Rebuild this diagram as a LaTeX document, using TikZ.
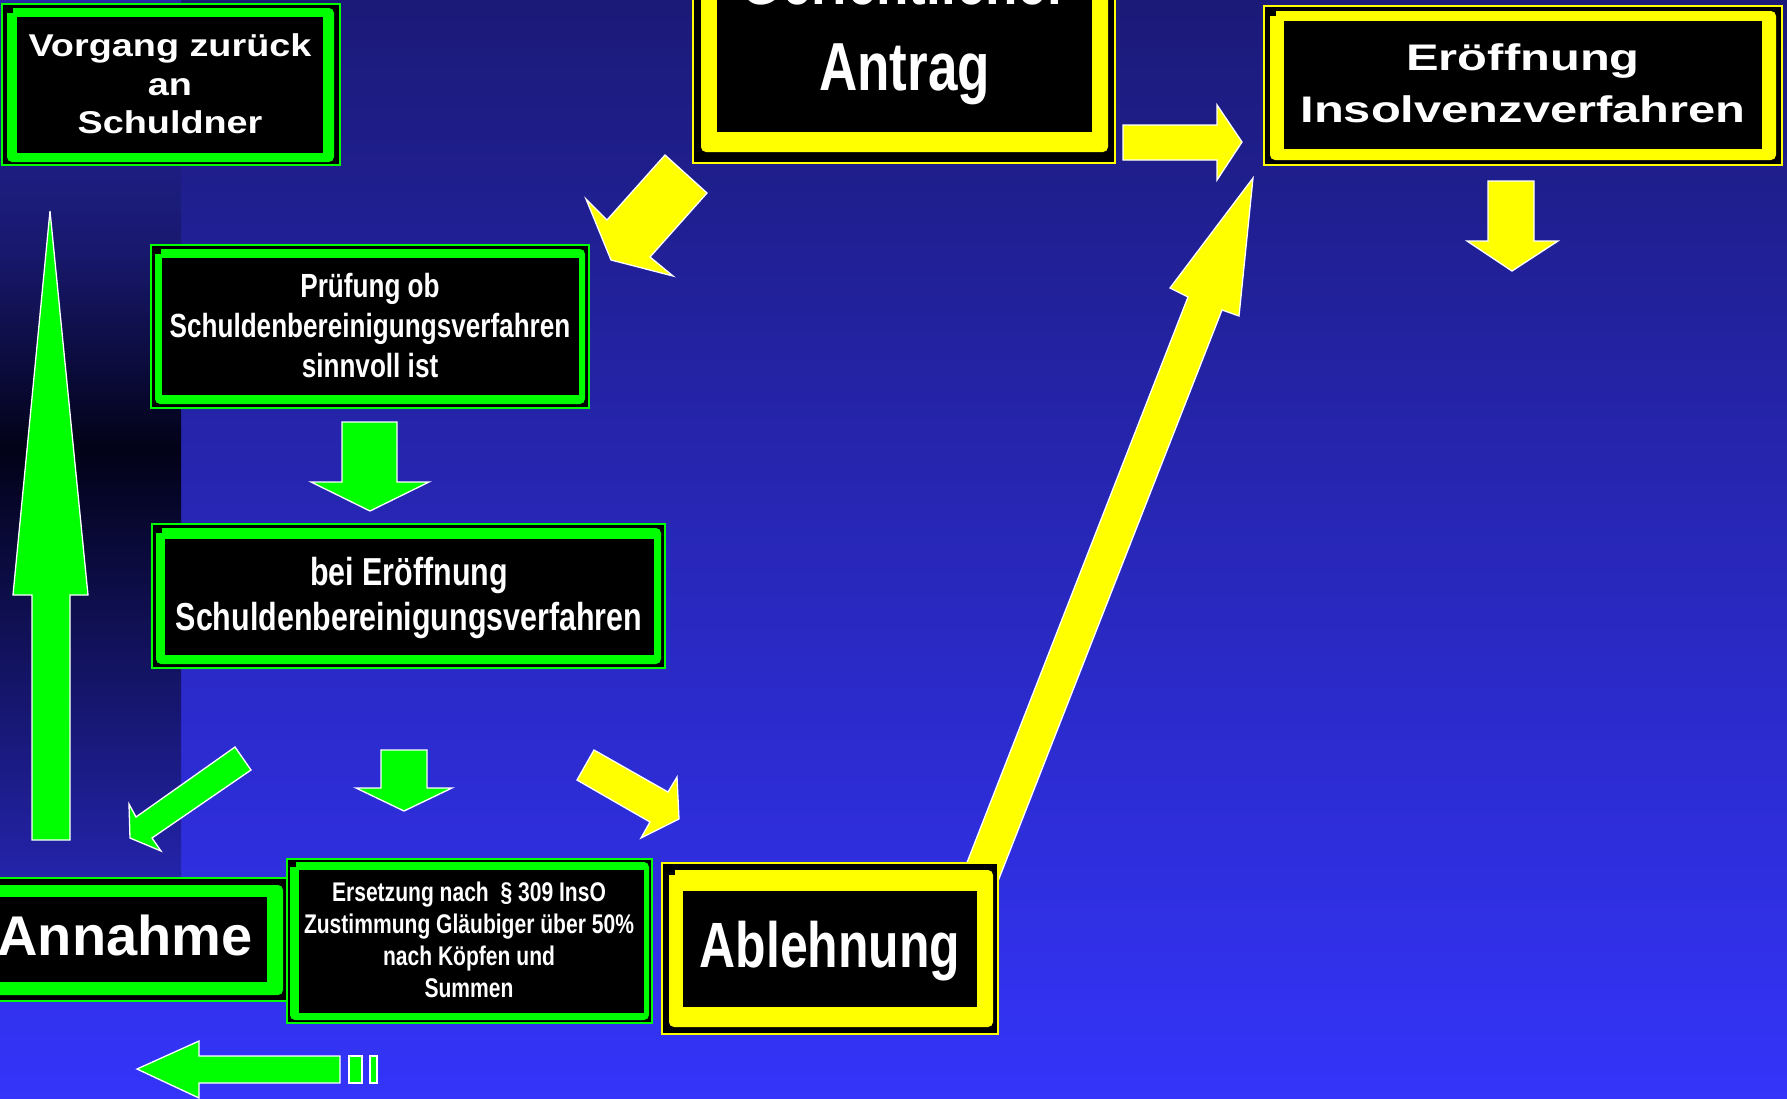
\documentclass[tikz,border=0pt]{standalone}
\usepackage{fontspec}
\setmainfont{Liberation Sans}
\newfontfamily\narrowf{Liberation Sans}[FakeStretch=0.78]
\newfontfamily\wideA{Liberation Sans}[FakeStretch=1.2]
\newfontfamily\wideB{Liberation Sans}[FakeStretch=1.32]
\definecolor{grn}{RGB}{0,255,0}
\definecolor{yel}{RGB}{255,255,0}
\definecolor{bgtop}{RGB}{27,26,120}
\definecolor{bgbot}{RGB}{52,52,250}
\definecolor{stripA}{RGB}{40,40,168}
\definecolor{stripB}{RGB}{24,24,110}
\definecolor{stripC}{RGB}{2,2,24}
\definecolor{stripD}{RGB}{36,36,172}
\tikzset{
  arr/.style={draw=white, line width=1.3pt, line join=miter},
  garr/.style={arr, fill=grn},
  yarr/.style={arr, fill=yel},
  txt/.style={text=white, align=center, inner sep=0pt},
}
% #1 colour, #2 #3 outer corners, #4 #5 frame corners, #6 #7 inner corners
\newcommand\mybox[7]{%
  \draw[fill=black, draw=#1, line width=1.5pt] #2 rectangle #3;
  \fill[#1, rounded corners=5pt] #4 rectangle #5;
  \fill[black] #4 rectangle ++(6,5);
  \fill[black] #6 rectangle #7;
}
\begin{document}
\begin{tikzpicture}[x=1pt,y=-1pt]
\useasboundingbox (0,0) rectangle (1787,1098);
\clip (0,0) rectangle (1787,1098);
% background
\shade[top color=bgtop, bottom color=bgbot] (0,0) rectangle (1787,1098);
\shade[top color=stripA, bottom color=stripB] (0,0) rectangle (181,250);
\shade[top color=stripB, bottom color=stripC] (0,250) rectangle (181,450);
\shade[top color=stripC, bottom color=stripD] (0,450) rectangle (181,880);

% ---------- arrows ----------
% big green up arrow (left)
\draw[garr] (50,211) -- (88,595) -- (70,595) -- (70,840) -- (32,840) -- (32,595) -- (13,595) -- cycle;
% Antrag -> Eroeffnung (right)
\draw[yarr] (1123,125) -- (1217,125) -- (1217,105) -- (1242,142) -- (1217,180) -- (1217,160) -- (1123,160) -- cycle;
% Antrag -> Pruefung (diagonal)
\draw[yarr] (665,155) -- (707,193) -- (650,257) -- (673,276) -- (611,260) -- (586,199) -- (607,220) -- cycle;
% Eroeffnung down
\draw[yarr] (1488,181) -- (1534,181) -- (1534,241) -- (1558,241) -- (1512,271) -- (1467,241) -- (1488,241) -- cycle;
% Pruefung -> bei Eroeffnung
\draw[garr] (342,422) -- (397,422) -- (397,482) -- (429,482) -- (370,511) -- (311,482) -- (342,482) -- cycle;
% green diagonal to Annahme
\draw[garr] (235,747) -- (251,770) -- (152,838) -- (161,851) -- (130,838) -- (129,804) -- (136,817) -- cycle;
% green small down
\draw[garr] (381,750) -- (427,750) -- (427,788) -- (452,788) -- (404,811) -- (356,788) -- (381,788) -- cycle;
% yellow to Ablehnung
\draw[yarr] (594,750) -- (668,792) -- (677,777) -- (679,819) -- (641,838) -- (650,822) -- (577,780) -- cycle;
% big yellow from Ablehnung up
\draw[yarr] (959,883) -- (1188,297) -- (1170,288) -- (1253,178) -- (1239,316) -- (1222,310) -- (991,899) -- cycle;
% bottom-left green arrow with bars
\draw[garr] (137,1069) -- (199,1041) -- (199,1056) -- (340,1056) -- (340,1083) -- (199,1083) -- (199,1098) -- cycle;
\draw[garr] (349,1056) rectangle (362,1083);
\draw[garr] (370,1056) rectangle (377,1083);

% ---------- boxes ----------
\mybox{grn}{(2,4)}{(340,165)}{(7,8)}{(334,162)}{(17,17)}{(323,153)}
\node[txt, font=\wideA\bfseries\fontsize{31.5}{38.5}\selectfont] (vorgang) at (170,84) {Vorgang zurück\\an\\Schuldner};

\mybox{yel}{(693,-60)}{(1115,163)}{(701,-60)}{(1108,152)}{(717,-60)}{(1092,132)}
\node[txt, anchor=base, font=\narrowf\bfseries\fontsize{68}{80}\selectfont] (gericht) at (904.5,4) {Gerichtlicher};
\node[txt, anchor=base, font=\narrowf\bfseries\fontsize{68}{80}\selectfont] (antrag) at (904.5,90) {Antrag};

\mybox{yel}{(1264,6)}{(1782,165)}{(1270,11)}{(1776,160)}{(1284,21)}{(1762,149)}
\node[txt, font=\wideB\bfseries\fontsize{37}{52}\selectfont] (eroeffnung) at (1523,83) {Eröffnung\\Insolvenzverfahren};

\mybox{grn}{(151,245)}{(589,408)}{(155,249)}{(585,404)}{(162,258)}{(579,395)}
\node[txt, font=\narrowf\bfseries\fontsize{33.5}{40}\selectfont] (pruefung) at (370,326) {Prüfung ob\\Schuldenbereinigungsverfahren\\sinnvoll ist};

\mybox{grn}{(152,524)}{(665,668)}{(156,528)}{(661,664)}{(165,539)}{(654,655)}
\node[txt, font=\narrowf\bfseries\fontsize{39}{45}\selectfont] (beieroeff) at (409,598) {bei Eröffnung\\Schuldenbereinigungsverfahren};

\mybox{grn}{(-10,878)}{(287,1001)}{(-10,885)}{(283,995)}{(-10,897)}{(267,982)}
\node[txt, font=\bfseries\fontsize{56}{60}\selectfont] (annahme) at (125,935) {Annahme};

\mybox{grn}{(287,859)}{(652,1023)}{(290,862)}{(649,1020)}{(299,870)}{(644,1013)}
\node[txt, font=\narrowf\bfseries\fontsize{27}{32}\selectfont] (ersetzung) at (469,940) {Ersetzung nach~~§ 309 InsO\\Zustimmung Gläubiger über 50\%\\nach Köpfen und\\Summen};

\mybox{yel}{(662,863)}{(998,1034)}{(669,870)}{(993,1027)}{(683,891)}{(977,1007)}
\node[txt, font=\narrowf\bfseries\fontsize{64}{70}\selectfont] (ablehnung) at (830,951) {Ablehnung};
\end{tikzpicture}
\end{document}
